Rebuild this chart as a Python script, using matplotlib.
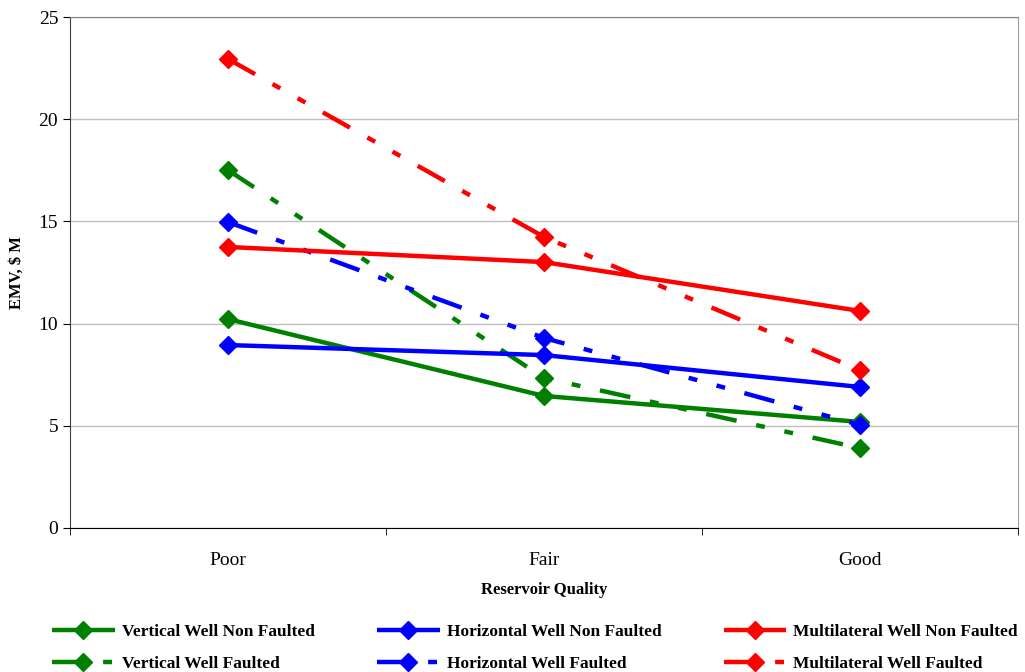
import matplotlib
matplotlib.use('Agg')
import matplotlib.pyplot as plt

plt.rcParams['font.family'] = ['Liberation Serif', 'DejaVu Serif']

# data
quality = ['Poor', 'Fair', 'Good']
vert_nf = [10.22, 6.46, 5.19]
horiz_nf = [8.95, 8.46, 6.90]
multi_nf = [13.75, 13.01, 10.62]
vert_f = [17.51, 7.34, 3.91]
horiz_f = [14.97, 9.30, 5.04]
multi_f = [22.95, 14.24, 7.73]

fig = plt.figure(figsize=(10.25, 6.72), dpi=100)
ax = fig.add_axes([0.0683, 0.2143, 0.9247, 0.7604])

x = list(range(len(quality)))
dash = (7, 4.5, 2, 4.5, 2, 4.5)   # long - short - short

series = [
    (vert_nf, 'Vertical Well Non Faulted', 'green', '-'),
    (vert_f, 'Vertical Well Faulted', 'green', '--'),
    (horiz_nf, 'Horizontal Well Non Faulted', 'blue', '-'),
    (horiz_f, 'Horizontal Well Faulted', 'blue', '--'),
    (multi_nf, 'Multilateral Well Non Faulted', 'red', '-'),
    (multi_f, 'Multilateral Well Faulted', 'red', '--'),
]

for vals, name, col, ls in series:
    line, = ax.plot(x, vals, color=col, lw=3.2, marker='D', markersize=9.5,
                    label=name, solid_capstyle='butt', dash_capstyle='butt')
    if ls == '--':
        line.set_dashes(dash)

ax.set_xlim(-0.5, 2.5)
ax.set_ylim(0, 25)
ax.set_yticks([0, 5, 10, 15, 20, 25])
ax.set_xticks(x)
ax.set_xticklabels(quality)
ax.set_xticks([-0.5, 0.5, 1.5, 2.5], minor=True)
ax.tick_params(axis='x', which='major', length=0, pad=17, labelsize=14)
ax.tick_params(axis='x', which='minor', length=5, direction='out')
ax.tick_params(axis='y', length=5, direction='out', labelsize=14)
ax.yaxis.grid(True, color='#c0c0c0', lw=1)
ax.set_axisbelow(True)

ax.spines['left'].set_color('#404040')
ax.spines['bottom'].set_color('black')
ax.spines['top'].set_color('#808080')
ax.spines['right'].set_color('#a0a0a0')

ax.set_xlabel('Reservoir Quality', fontsize=12, fontweight='bold', labelpad=10)
ax.set_ylabel('EMV, $ M', fontsize=12, fontweight='bold', labelpad=10)

fig.legend(loc='lower center', bbox_to_anchor=(0.522, -0.023), ncol=3,
           frameon=False, prop={'size': 12.5, 'weight': 'bold'},
           handlelength=3.6, columnspacing=3.6, labelspacing=0.9, handletextpad=0.4)

plt.savefig('out.png', dpi=100)
